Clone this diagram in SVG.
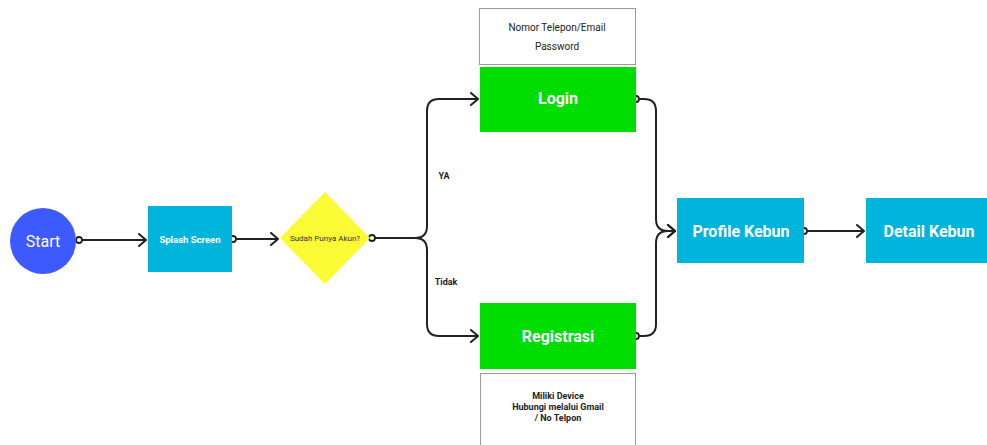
<svg xmlns="http://www.w3.org/2000/svg" width="987" height="445" viewBox="0 0 987 445">
<defs>
<marker id="arr" markerWidth="12" markerHeight="14" refX="9" refY="7" orient="auto" markerUnits="userSpaceOnUse">
<path d="M2,1 L9,7 L2,13" fill="none" stroke="#222" stroke-width="2" stroke-linecap="round" stroke-linejoin="round"/>
</marker>
</defs>
<style>
.ln{fill:none;stroke:#222;stroke-width:2}
.dot{fill:#fff;stroke:#222;stroke-width:1.8}
.cy{fill:#00b4dc}
.gr{fill:#00dd00}
.note{fill:#fff;stroke:#999;stroke-width:1}
text{font-family:Roboto,"Liberation Sans",sans-serif;text-anchor:middle;dominant-baseline:central}
.wb{fill:#fff;font-weight:bold}
.lbl{fill:#222;font-weight:bold;font-size:9px}
</style>
<rect width="987" height="445" fill="#fff"/>
<g id="connectors">
<path class="ln" d="M80 240 H146" marker-end="url(#arr)"/>
<path class="ln" d="M234 239 H278" marker-end="url(#arr)"/>
<path class="ln" d="M374 238 H415 Q427 238 427 226 V111 Q427 99 439 99 H478" marker-end="url(#arr)"/>
<path class="ln" d="M374 238 H415 Q427 238 427 250 V324 Q427 336 439 336 H478" marker-end="url(#arr)"/>
<path class="ln" d="M639 99 H644 Q656 99 656 111 V219 Q656 231 668 231 H675" marker-end="url(#arr)"/>
<path class="ln" d="M639 336 H644 Q656 336 656 324 V243 Q656 231 668 231 H675" marker-end="url(#arr)"/>
<path class="ln" d="M807 231 H864" marker-end="url(#arr)"/>
<circle class="dot" cx="79" cy="240" r="3"/>
<circle class="dot" cx="233" cy="239" r="3"/>
<circle class="dot" cx="372" cy="238" r="3"/>
<circle class="dot" cx="636" cy="99" r="3"/>
<circle class="dot" cx="636" cy="336" r="3"/>
<circle class="dot" cx="804" cy="231" r="3"/>
<text class="lbl" x="444" y="176">YA</text>
<text class="lbl" x="446" y="282">Tidak</text>
</g>
<g id="start">
<circle cx="43" cy="241" r="33" fill="#3d5afe"/>
<text x="43" y="241" fill="#fff" font-size="16">Start</text>
</g>
<g id="splash">
<rect class="cy" x="148" y="206" width="84" height="66"/>
<text class="wb" x="190" y="239" font-size="9.5">Splash Screen</text>
</g>
<g id="decision">
<polygon points="325,192 370,238 325,284 280,238" fill="#fbfb35"/>
<text x="325" y="238" fill="#333" font-size="8">Sudah Punya Akun?</text>
</g>
<g id="login-note">
<rect class="note" x="479.5" y="8.5" width="156" height="56"/>
<text x="557" y="27" fill="#222" font-size="10">Nomor Telepon/Email</text>
<text x="557" y="46" fill="#222" font-size="10">Password</text>
</g>
<g id="login">
<rect class="gr" x="480" y="67" width="156" height="65"/>
<text class="wb" x="558" y="98" font-size="16">Login</text>
</g>
<g id="registrasi">
<rect class="gr" x="480" y="303" width="156" height="66"/>
<text class="wb" x="558" y="336" font-size="16">Registrasi</text>
</g>
<g id="reg-note">
<rect class="note" x="480.5" y="373.5" width="155" height="75"/>
<text x="558" y="396" fill="#222" font-weight="bold" font-size="9">Miliki Device</text>
<text x="558" y="407" fill="#222" font-weight="bold" font-size="9">Hubungi melalui Gmail</text>
<text x="558" y="418" fill="#222" font-weight="bold" font-size="9">/ No Telpon</text>
</g>
<g id="profile">
<rect class="cy" x="677" y="198" width="127" height="65"/>
<text class="wb" x="741" y="231" font-size="16">Profile Kebun</text>
</g>
<g id="detail">
<rect class="cy" x="866" y="198" width="125" height="65"/>
<text class="wb" x="929" y="231" font-size="16">Detail Kebun</text>
</g>
</svg>
